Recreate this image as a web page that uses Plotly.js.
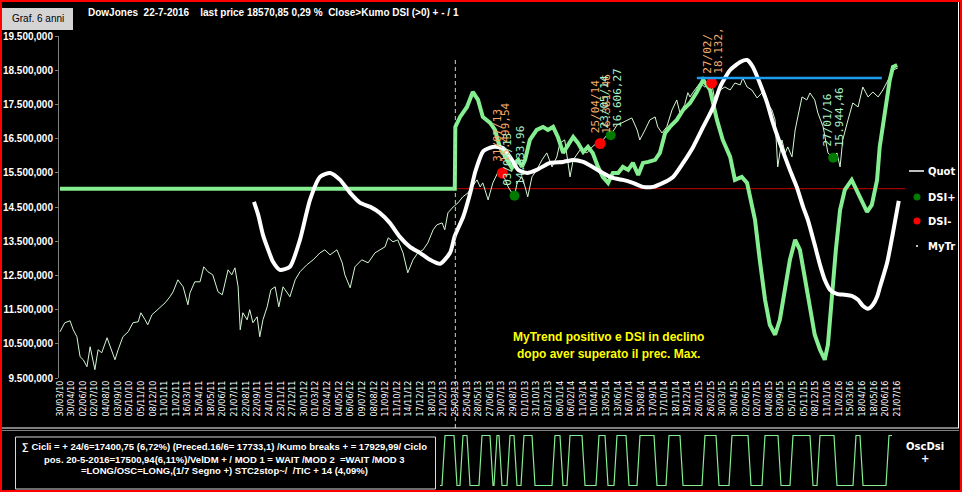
<!DOCTYPE html>
<html><head><meta charset="utf-8">
<script src="https://cdn.plot.ly/plotly-3.0.1.min.js"></script>
<style>html,body{margin:0;padding:0;background:#000;}#chart{width:962px;height:492px;}</style>
</head><body><div id="chart"></div>
<script>
// ---------- DATA ----------
const tickDates = ['30/03/10','30/04/10','02/06/10','02/07/10','04/08/10','03/09/10','05/10/10','05/11/10','08/12/10',
'11/01/11','11/02/11','16/03/11','15/04/11','18/05/11','20/06/11','21/07/11','22/08/11','22/09/11','24/10/11','23/11/11','27/12/11',
'30/01/12','01/03/12','02/04/12','04/05/12','06/06/12','09/07/12','08/08/12','11/09/12','11/10/12','14/11/12','17/12/12',
'18/01/13','21/02/13','25/03/13','25/04/13','28/05/13','27/06/13','30/07/13','29/08/13','01/10/13','31/10/13','03/12/13',
'06/01/14','06/02/14','11/03/14','10/04/14','13/05/14','13/06/14','16/07/14','15/08/14','17/09/14','17/10/14','18/11/14','19/12/14',
'26/01/15','26/02/15','30/03/15','30/04/15','02/06/15','02/07/15','04/08/15','03/09/15','05/10/15','05/11/15','08/12/15',
'11/01/16','11/02/16','15/03/16','18/04/16','18/05/16','20/06/16','21/07/16'];
const barsPerTick = 22;  // trading days between date labels

const yTickVals = [9500,10500,11500,12500,13500,14500,15500,16500,17500,18500,19500];
const yTickText = ['9.500,000','10.500,000','11.500,000','12.500,000','13.500,000','14.500,000','15.500,000','16.500,000','17.500,000','18.500,000','19.500,000'];

// Quotation (trading-day index, close)
const quotDay = [0,9,19,25,32,38,44,51,57,62,66,72,79,89,95,104,110,119,129,138,148,153,161,166,174,185,199,208,214,223,233,242,246,255,265,272,280,289,299,307,312,318,325,331,337,341,346,354,359,365,373,378,384,392,399,407,414,422,426,435,445,454,467,479,492,501,511,524,534,539,549,558,571,583,596,605,615,621,630,639,649,658,668,677,687,696,706,713,723,728,734,744,753,762,772,789,795,800,810,819,829,837,848,855,860,865,874,880,885,893,902,912,921,931,940,946,955,965,971,984,997,1007,1016,1022,1035,1042,1054,1063,1073,1082,1092,1097,1107,1116,1126,1131,1139,1148,1158,1167,1173,1182,1188,1192,1201,1211,1220,1233,1239,1249,1258,1268,1277,1287,1292,1300,1309,1319,1328,1338,1347,1353,1358,1366,1372,1377,1385,1391,1396,1404,1413,1419,1428,1434,1444,1453,1463,1470,1476,1481,1491,1500,1510,1519,1529,1538,1548,1557,1567,1576,1585];
const quotVal = [10853,11117,11175,10912,10707,10122,10035,9830,10414,10035,9742,10327,10239,10677,10414,10035,10327,10707,10853,11117,11146,11409,11204,11058,11351,11497,11701,11877,12023,12374,12169,11643,11994,12315,12315,12754,12608,12520,12023,11935,12315,12666,12520,12725,12169,10912,11409,11204,11497,11117,11292,10707,11204,11584,12081,12169,11584,12169,12081,11877,12374,12608,12812,12959,13163,13251,13105,13251,12871,12520,12140,12754,12959,12871,13163,13251,13339,13602,13485,13543,13163,12579,12959,13163,13251,13456,13836,13982,14040,13836,14333,14508,14625,14801,14918,15298,15093,15210,14713,15210,15532,15500,15093,14918,14834,15210,15385,15093,14801,15385,15590,15883,16087,15678,15970,16380,16467,15385,15883,16175,16087,16263,16380,16361,16614,16606,16906,16965,17053,17111,16760,16467,16760,17053,17140,16848,16672,16848,17345,17637,17257,17500,17850,17725,17929,18134,18017,18133,17637,17929,18017,17929,18134,18076,18280,18017,17929,17696,17842,17549,17345,17053,15678,16467,16087,16263,15970,16760,17140,17725,17637,17842,17637,17257,16848,16087,15944,16087,15678,16467,17053,17549,17432,18017,17725,17871,17725,17929,18222,18514,18571];

// DSI oscillator (projected on price scale)
const dsiDay = [0,747,748,757,770,781,791,800,814,823,832,846,855,861,867,874,880,889,902,914,923,933,942,952,961,971,980,990,999,1008,1018,1027,1037,1046,1056,1065,1075,1084,1094,1103,1113,1126,1135,1145,1154,1167,1179,1192,1205,1217,1230,1243,1254,1268,1277,1290,1300,1309,1315,1324,1334,1343,1353,1362,1372,1381,1391,1400,1410,1419,1428,1438,1447,1453,1460,1468,1476,1485,1498,1504,1517,1527,1536,1546,1551,1561,1570,1576,1584];
const dsiVal = [15040,15040,16848,17140,17432,17871,17637,17140,16965,16760,16263,15883,15649,15795,15883,15678,15883,16467,16760,16848,16760,16848,16555,16087,16321,16555,16380,16117,16263,16087,15678,15385,15210,15502,15502,15678,15590,15795,15444,15795,15824,15883,16087,16672,16848,17053,17345,17549,17871,18222,17929,17053,16467,15970,15298,15385,15210,14625,14128,12959,11789,11058,10765,11204,12081,12959,13543,13251,12374,11497,10765,10327,10035,10473,11789,13251,14420,15005,15298,15093,14713,14362,14567,15298,16263,17345,18222,18602,18660];

// MyTrend
const myTrDay = [367,375,384,394,403,416,435,454,473,492,511,530,549,568,587,605,624,643,662,681,700,719,738,747,763,776,786,801,819,838,855,867,884,902,927,952,971,990,1008,1027,1046,1065,1084,1103,1122,1141,1160,1179,1198,1217,1236,1249,1268,1287,1300,1311,1324,1338,1349,1362,1381,1394,1406,1415,1428,1438,1447,1457,1470,1485,1498,1510,1519,1529,1538,1546,1551,1565,1576,1587];
const myTrVal = [14655,14274,13690,13251,12900,12666,12754,13543,14713,15385,15502,15298,14918,14625,14508,14333,14040,13631,13339,13163,12959,12842,13163,13655,14224,14908,15550,16140,16263,16234,15883,15590,15502,15590,15795,15824,15883,15824,15678,15502,15356,15298,15210,15093,15093,15210,15385,15795,16263,16848,17432,18017,18514,18748,18807,18602,18134,17549,16965,16380,15590,15093,14508,14128,13397,12812,12374,12081,11964,11935,11906,11789,11613,11526,11643,11877,12140,12871,13748,14684];

// Signals
const dsiPlusDay  = [860, 1042, 1463];
const dsiPlusVal  = [14833.96, 16606.27, 15944.46];
const dsiPlusDate = ['03/09/13','23/05/14','27/01/16'];
const dsiPlusTxt  = ['14.833,96','16.606,27','15.944,46'];
const dsiMinusDay  = [837, 1022, 1233];
const dsiMinusVal  = [15499.54, 16361.46, 18132.70];
const dsiMinusDate = ['31/07/13','25/04/14','27/02/'];
const dsiMinusTxt  = ['15.499,54','16.361,46','18.132,'];

const redLevel = 15040, redFrom = 747, redTo = 1599;
const blueLevel = 18280, blueFrom = 1205, blueTo = 1555;
const markerDay = 748;

// OscDsi bottom panel (bar, value 0-100)
const oscX = [0,2,5,14,17,20,23,27,30,39,42,50,53,54,57,59,62,67,70,74,77,81,84,92,95,112,115,120,123,127,130,142,145,156,159,165,168,174,177,186,189,197,200,214,217,226,229,240,243,262,265,276,279,289,292,308,311,322,325,338,341,350,353,370,373,377,380,394,397,413,416,420,423,446,449,452];
const oscY = [0,0,100,100,0,0,100,100,0,0,100,100,0,0,100,100,0,0,100,100,0,0,100,100,0,0,100,100,0,0,100,100,0,0,100,100,0,0,100,100,0,0,100,100,0,0,100,100,0,0,100,100,0,0,100,100,0,0,100,100,0,0,100,100,0,0,100,100,0,0,100,100,0,0,100,100];

// ---------- LAYOUT HELPERS ----------
const W = 962, H = 492;
const px = x => x / W;
const py = y => 1 - y / H;

const traces = [
  {x: quotDay, y: quotVal, type:'scatter', mode:'lines', line:{color:'#d4f7d4', width:1}, hoverinfo:'skip'},
  {x: dsiDay, y: dsiVal, type:'scatter', mode:'lines', line:{color:'#84ee90', width:4}, hoverinfo:'skip'},
  {x: myTrDay, y: myTrVal, type:'scatter', mode:'lines', line:{color:'#ffffff', width:4, shape:'spline', smoothing:0.6}, hoverinfo:'skip'},
  {x: dsiMinusDay, y: dsiMinusVal, type:'scatter', mode:'markers', marker:{color:'#ff0000', size:11}, hoverinfo:'skip'},
  {x: dsiPlusDay, y: dsiPlusVal, type:'scatter', mode:'markers', marker:{color:'#007a00', size:10}, hoverinfo:'skip'},
  {x: oscX, y: oscY, xaxis:'x2', yaxis:'y2', type:'scatter', mode:'lines', line:{color:'#84ee90', width:1.2}, hoverinfo:'skip'}
];

const sigFont = c => ({family:'DejaVu Sans Mono', size:11, color:c});
const orange = '#f4aa6c', lgreen = '#a8f0c8';
const ann = [];
const sigShift = {dMinus:[[-5,10,4,10],[-5,9,6,9],[-5,8,6,8]], dPlus:[[-7,9,6,9],[-6,6,6,6],[-6,10,7,10]]};
dsiMinusDay.forEach((d,i)=>{
  const s = sigShift.dMinus[i];
  ann.push({x:d, y:dsiMinusVal[i], xref:'x', yref:'y', text:dsiMinusDate[i], textangle:-90, showarrow:false, xanchor:'center', yanchor:'bottom', xshift:s[0], yshift:s[1], font:sigFont(orange), borderpad:0});
  ann.push({x:d, y:dsiMinusVal[i], xref:'x', yref:'y', text:dsiMinusTxt[i], textangle:-90, showarrow:false, xanchor:'center', yanchor:'bottom', xshift:s[2], yshift:s[3], font:sigFont(orange), borderpad:0});
});
dsiPlusDay.forEach((d,i)=>{
  const s = sigShift.dPlus[i];
  ann.push({x:d, y:dsiPlusVal[i], xref:'x', yref:'y', text:dsiPlusDate[i], textangle:-90, showarrow:false, xanchor:'center', yanchor:'bottom', xshift:s[0], yshift:s[1], font:sigFont(lgreen), borderpad:0});
  ann.push({x:d, y:dsiPlusVal[i], xref:'x', yref:'y', text:dsiPlusTxt[i], textangle:-90, showarrow:false, xanchor:'center', yanchor:'bottom', xshift:s[2], yshift:s[3], font:sigFont(lgreen), borderpad:0});
});

const nb = '\u00a0';
const paperText = (x,y,text,opts) => Object.assign({x:px(x), y:py(y), xref:'paper', yref:'paper', text:text, showarrow:false, borderpad:0}, opts);
ann.push(paperText(87,13,'DowJones'+nb+nb+'22-7-2016'+nb+nb+nb+nb+'last price 18570,85 0,29 %'+nb+nb+'Close>Kumo DSI (>0) + - / 1',
  {xanchor:'left', yanchor:'middle', font:{family:'Liberation Sans', size:10, weight:'bold', color:'#ffffff'}}));
ann.push(paperText(37.5,19,'Graf. 6 anni',{xanchor:'center', yanchor:'middle', font:{family:'Liberation Sans', size:10, color:'#000000'}}));
ann.push(paperText(608,337,'MyTrend positivo e DSI in declino',{xanchor:'center', yanchor:'middle', font:{family:'Liberation Sans', size:12, weight:'bold', color:'#ffff00'}}));
ann.push(paperText(608,354,'dopo aver superato il prec. Max.',{xanchor:'center', yanchor:'middle', font:{family:'Liberation Sans', size:12, weight:'bold', color:'#ffff00'}}));
const boxFont = {family:'Liberation Sans', size:9.5, weight:'bold', color:'#ffffff'};
ann.push(paperText(224,447,'\u2211 Cicli = + 24/6=17400,75 (6,72%) (Preced.16/6= 17733,1) /Kumo breaks + = 17929,99/ Ciclo',{xanchor:'center', yanchor:'middle', font:boxFont}));
ann.push(paperText(224,459,'pos. 20-5-2016=17500,94(6,11%)/VelDM + / MOD 1 = WAIT /MOD 2 '+nb+'=WAIT /MOD 3',{xanchor:'center', yanchor:'middle', font:boxFont}));
ann.push(paperText(224,470,'=LONG/OSC=LONG,(1/7 Segno +) STC2stop~/ '+nb+'/TIC + 14 (4,09%)',{xanchor:'center', yanchor:'middle', font:boxFont}));
const lgFont = {family:'DejaVu Sans', size:10, weight:'bold', color:'#ffffff'};
ann.push(paperText(925,446,'OscDsi',{xanchor:'center', yanchor:'middle', font:lgFont}));
ann.push(paperText(925,458,'+',{xanchor:'center', yanchor:'middle', font:lgFont}));
[['Quot',171],['DSI+',197],['DSI-',221],['MyTr',246]].forEach(l=>{
  ann.push(paperText(927,l[1],l[0],{xanchor:'left', yanchor:'middle', font:lgFont}));
});

const circ = (cx,cy,r,color) => ({type:'circle', xref:'paper', yref:'paper', x0:px(cx-r), x1:px(cx+r), y0:py(cy+r), y1:py(cy-r), fillcolor:color, line:{width:0}});
const shapes = [
  {type:'line', xref:'x', yref:'y', x0:redFrom, x1:redTo, y0:redLevel, y1:redLevel, line:{color:'#c40000', width:1}, layer:'below'},
  {type:'line', xref:'x', yref:'y', x0:blueFrom, x1:blueTo, y0:blueLevel, y1:blueLevel, line:{color:'#1e9cf0', width:2.5}, layer:'above'},
  {type:'line', xref:'x', yref:'paper', x0:markerDay, x1:markerDay, y0:py(428), y1:py(59), line:{color:'#d0d0d0', width:1, dash:'4px,3px'}, layer:'above'},
  {type:'line', xref:'paper', yref:'paper', x0:0, x1:px(959), y0:py(428), y1:py(428), line:{color:'#ffffff', width:1}},
  {type:'line', xref:'paper', yref:'paper', x0:0, x1:px(959), y0:py(430.5), y1:py(430.5), line:{color:'#808080', width:1}},
  {type:'line', xref:'paper', yref:'paper', x0:px(958.5), x1:px(958.5), y0:py(428), y1:py(2), line:{color:'#ffffff', width:1}},
  {type:'rect', xref:'paper', yref:'paper', x0:px(1), x1:px(961), y0:py(491), y1:py(1), line:{color:'#ff0000', width:2}},
  {type:'rect', xref:'paper', yref:'paper', x0:px(2), x1:px(73), y0:py(30), y1:py(8), fillcolor:'#d4d4d4', line:{width:0}},
  {type:'rect', xref:'paper', yref:'paper', x0:px(15.5), x1:px(435.5), y0:py(489), y1:py(437), line:{color:'#d8d8d8', width:1}},
  {type:'line', xref:'paper', yref:'paper', x0:px(909), x1:px(924), y0:py(171), y1:py(171), line:{color:'#ffffff', width:1.5}},
  circ(917,197,3.5,'#007a00'),
  circ(917,221,3.5,'#ff0000'),
  circ(917,246,1,'#ffffff')
];

const layout = {
  width: W, height: H,
  margin:{l:0,r:0,t:0,b:0,pad:0},
  paper_bgcolor:'#000000', plot_bgcolor:'#000000',
  showlegend:false,
  font:{family:'DejaVu Sans', color:'#ffffff'},
  xaxis:{domain:[px(59), px(959)], range:[-1.9,1701], tickvals: tickDates.map((_,i)=>i*barsPerTick), ticktext: tickDates,
         tickangle:-90, tickfont:{family:'DejaVu Sans', size:8, color:'#ffffff'}, ticks:'', showgrid:false, zeroline:false, showline:false, automargin:false, fixedrange:true},
  yaxis:{domain:[1-378/H, 1-36.3/H], range:[9500,19500], tickvals:yTickVals, ticktext:yTickText, ticks:'outside', ticklen:3, tickcolor:'#808080',
         showline:true, linecolor:'#808080', linewidth:1, tickfont:{family:'Liberation Sans', size:10, weight:'bold', color:'#ffffff'},
         showgrid:false, zeroline:false, automargin:false, fixedrange:true},
  xaxis2:{domain:[px(440), px(892)], range:[0,452], visible:false, anchor:'y2'},
  yaxis2:{domain:[1-487/H, 1-434/H], range:[-3,103], visible:false, anchor:'x2'},
  shapes: shapes,
  annotations: ann
};
Plotly.newPlot('chart', traces, layout, {staticPlot:true, displayModeBar:false});
</script></body></html>
